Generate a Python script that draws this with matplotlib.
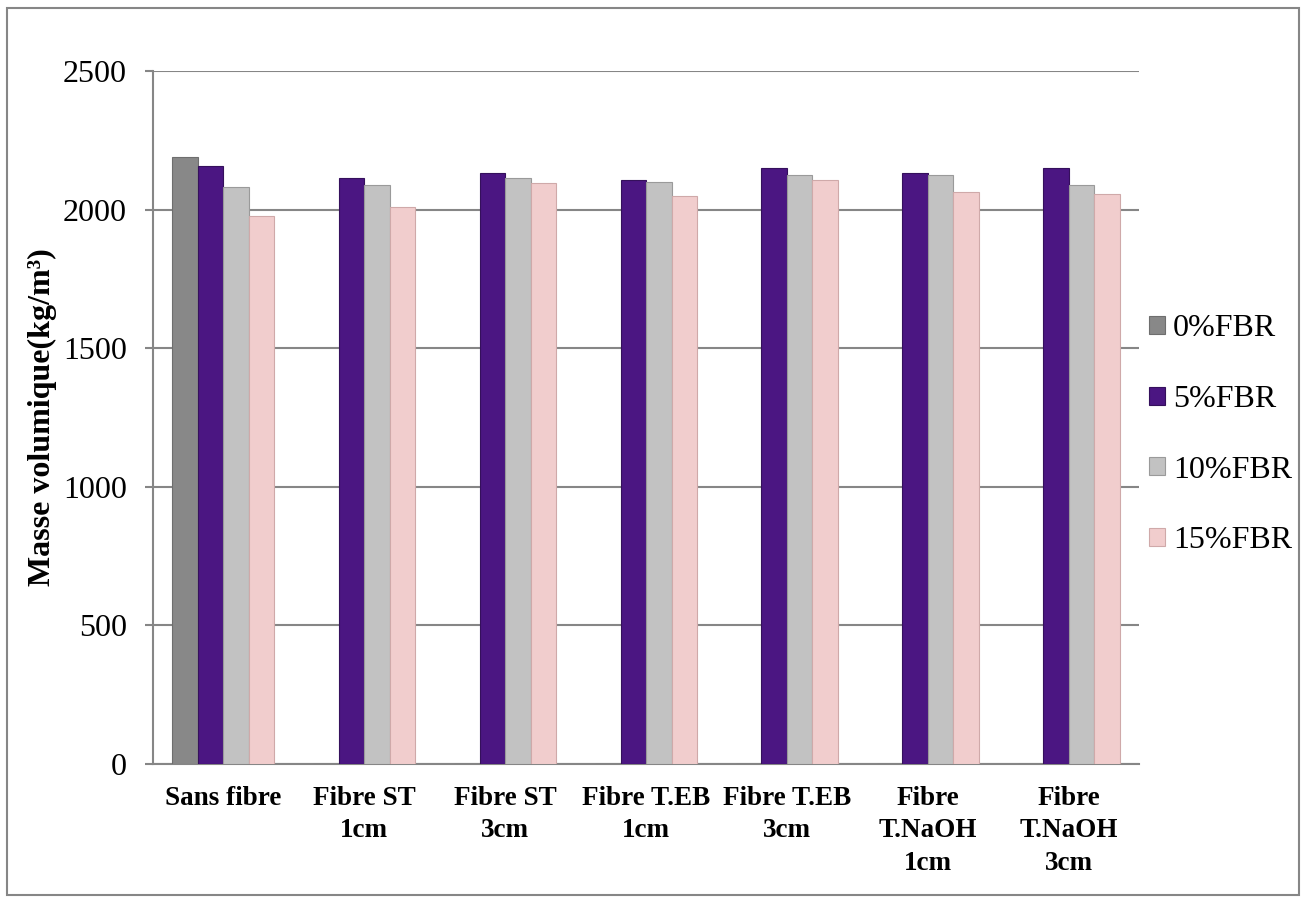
import numpy as np
import matplotlib.pyplot as plt
from matplotlib.patches import Rectangle

plt.rcParams["font.family"] = ["Liberation Serif", "DejaVu Serif"]

categories = ["Sans fibre", "Fibre ST\n1cm", "Fibre ST\n3cm", "Fibre T.EB\n1cm",
              "Fibre T.EB\n3cm", "Fibre\nT.NaOH\n1cm", "Fibre\nT.NaOH\n3cm"]
series_names = ["0%FBR", "5%FBR", "10%FBR", "15%FBR"]
fbr_0 = [2190, 0, 0, 0, 0, 0, 0]
fbr_5 = [2158, 2114, 2132, 2107, 2150, 2132, 2150]
fbr_10 = [2083, 2090, 2114, 2099, 2126, 2126, 2090]
fbr_15 = [1977, 2011, 2096, 2049, 2107, 2063, 2056]

series = [fbr_0, fbr_5, fbr_10, fbr_15]
colors = ["#888888", "#4b1682", "#c2c2c2", "#f1cdcd"]
edges = ["#6e6e6e", "#35105c", "#9a9a9a", "#cfa9a9"]

fig = plt.figure(figsize=(13.07, 9.02), dpi=100)
ax = fig.add_axes([0.1171, 0.153, 0.7544, 0.7683])

x = np.arange(len(categories))
w = 0.181
for i, vals in enumerate(series):
    ax.bar(x + (i - 1.5) * w, vals, width=w, color=colors[i],
           edgecolor=edges[i], linewidth=0.8, label=series_names[i], zorder=3)

ax.set_xlim(-0.5, len(categories) - 0.5)
ax.set_ylim(0, 2500)
ax.set_yticks([0, 500, 1000, 1500, 2000, 2500])
ax.yaxis.grid(True, color="#868686", linewidth=1.5, zorder=0)
ax.set_axisbelow(True)

for s in ["top", "right"]:
    ax.spines[s].set_visible(False)
ax.spines["left"].set_color("#868686")
ax.spines["left"].set_linewidth(1.5)
ax.spines["bottom"].set_color("#868686")
ax.spines["bottom"].set_linewidth(1.5)

ax.tick_params(axis="y", length=6, width=1.5, color="#868686", pad=13, labelsize=23)
ax.tick_params(axis="x", length=0, pad=16)
ax.set_xticks(x)
ax.set_xticklabels(categories, fontsize=19.5, fontweight="bold", linespacing=1.38)

ax.set_ylabel("Masse volumique(kg/m³)", fontsize=23, fontweight="bold", labelpad=2)
ax.yaxis.set_label_coords(-0.097, 0.5)

ax.legend(loc="center left", bbox_to_anchor=(0.879, 0.518), bbox_transform=fig.transFigure,
          frameon=False, fontsize=23, handlelength=0.5, handleheight=0.5,
          handletextpad=0.25, labelspacing=1.3, borderaxespad=0, borderpad=0)

fig.patches.append(Rectangle((0.0054, 0.0078), 0.9885, 0.9833, transform=fig.transFigure,
                             fill=False, edgecolor="#868686", linewidth=1.5))

fig.savefig("out.png", dpi=100)
